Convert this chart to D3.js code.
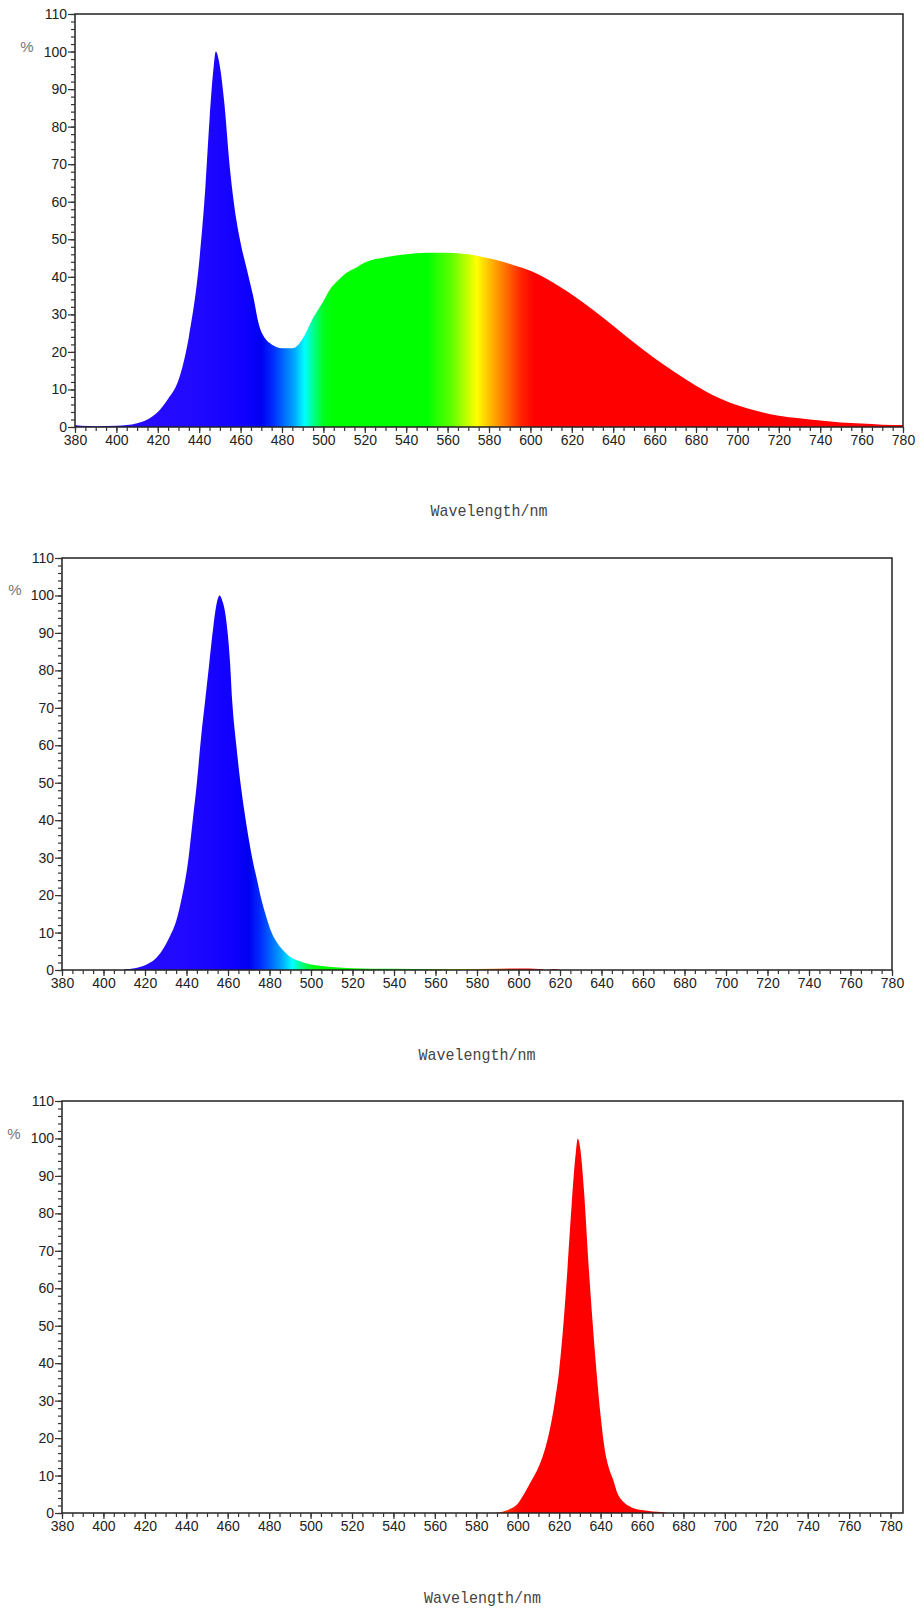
<!DOCTYPE html>
<html>
<head>
<meta charset="utf-8">
<script src="https://cdn.jsdelivr.net/npm/d3@7"></script>
<style>
  body { margin: 0; background: #fff; }
  svg { display: block; }
  .tick text { font-family: "Liberation Sans", Arial, sans-serif; font-size: 14px; fill: #222; }
  .tick line { stroke: #333; }
</style>
</head>
<body>
<svg width="920" height="1609"></svg>
<script>
// relative intensity (%), [wavelength nm, value]
const whiteLed = [
  [380, 0.5], [383, 0.3], [390, 0.2], [400, 0.3], [405, 0.5], [410, 1], [415, 2], [420, 4],
  [425, 7.5], [430, 12.5], [435, 24], [440, 44], [443, 64], [445, 82], [447, 96], [448, 100],
  [450, 96], [452, 87], [455, 68], [458, 55], [460, 49], [463, 42], [466, 35], [469, 27],
  [472, 23.5], [475, 22], [480, 21], [485, 21], [488, 22], [491, 24.5], [495, 29], [500, 33.5],
  [503, 36.5], [507, 39], [511, 41], [516, 42.5], [520, 43.8], [530, 45.2], [540, 46], [550, 46.4],
  [560, 46.4], [570, 46], [577, 45.3], [585, 44.3], [592, 43.1], [600, 41.6], [608, 39.4], [615, 37.1],
  [620, 35.3], [630, 31.3], [640, 27], [650, 22.5], [660, 18.3], [670, 14.5], [680, 11], [690, 8],
  [700, 5.8], [710, 4.2], [720, 3], [730, 2.3], [740, 1.7], [750, 1.2], [760, 0.9], [770, 0.6],
  [780, 0.5]
];

const blueLed = [
  [410, 0.2], [415, 0.5], [420, 1.3], [425, 3], [428, 5], [432, 9], [435, 13], [438, 20],
  [441, 30], [443, 40], [445, 50], [447, 62], [449, 72], [451, 82], [453, 92], [455, 99],
  [456, 100], [457, 99], [459, 94], [461, 82], [462, 72], [464, 60], [466, 50], [468, 42],
  [470, 35], [472, 29], [474, 24], [476, 19], [478, 15], [481, 10], [484, 7], [487, 5],
  [490, 3.5], [495, 2.3], [500, 1.5], [505, 1.1], [510, 0.8], [520, 0.5], [540, 0.35],
  [560, 0.3], [580, 0.3], [600, 0.4], [610, 0.3], [614, 0], [617, 0.3], [620, 0]
];

const redLed = [
  [588, 0], [592, 0.3], [596, 1], [600, 2.5], [603, 5], [606, 8], [609, 11], [612, 15],
  [615, 21], [618, 30], [620, 38], [622, 50], [624, 65], [626, 82], [628, 96], [629, 100],
  [630, 98], [632, 86], [634, 68], [636, 52], [638, 38], [640, 26], [642, 17], [644, 12],
  [646, 9], [648, 5.5], [651, 3], [655, 1.5], [660, 0.8], [665, 0.4], [670, 0.2], [672, 0]
];

const xTickLabels = d3.range(380, 781, 20);
const yTickLabels = d3.range(0, 111, 10);

// spectrum colours used for the fill
const spectrumNm = [380, 440, 462, 470, 476, 486, 491, 495, 500, 505, 550, 562, 568, 574, 580, 588, 596, 602, 780];
const spectrumColor = ['#3010ff', '#2008ff', '#1000ff', '#0000f0', '#0030ff', '#00a8ff', '#00ffff', '#00ff90',
  '#00ff20', '#00ff00', '#00ff00', '#60ff00', '#b0ff00', '#ffff00', '#ffc000', '#ff7000', '#ff2000', '#ff0000', '#ff0000'];

const charts = [
  { id: 'white', data: whiteLed, left: 75, right: 903, top: 14, bottom: 427, xMax: 780, pctY: 47, pctX: 27, titleY: 510 },
  { id: 'blue', data: blueLed, left: 62, right: 892, top: 558, bottom: 970, xMax: 780, pctY: 590, pctX: 15, titleY: 1054 },
  { id: 'red', data: redLed, left: 62, right: 903, top: 1101, bottom: 1513, xMax: 786, pctY: 1134, pctX: 14, titleY: 1597 }
];

const svg = d3.select('svg');
const defs = svg.append('defs');

charts.forEach(c => {
  const x = d3.scaleLinear().domain([380, c.xMax]).range([c.left, c.right]);
  const y = d3.scaleLinear().domain([0, 110]).range([c.bottom, c.top]);

  const grad = defs.append('linearGradient')
    .attr('id', `grad-${c.id}`)
    .attr('gradientUnits', 'userSpaceOnUse')
    .attr('x1', x(380)).attr('x2', x(780))
    .attr('y1', 0).attr('y2', 0);
  grad.selectAll('stop')
    .data(spectrumNm)
    .enter()
    .append('stop')
    .attr('offset', d => (d - 380) / 400)
    .attr('stop-color', (d, i) => spectrumColor[i]);

  const g = svg.append('g');

  const area = d3.area()
    .x(d => x(d[0]))
    .y0(y(0))
    .y1(d => y(d[1]))
    .curve(d3.curveMonotoneX);

  g.append('path')
    .datum(c.data)
    .attr('d', area)
    .attr('fill', `url(#grad-${c.id})`);

  // frame
  g.append('rect')
    .attr('x', c.left).attr('y', c.top)
    .attr('width', c.right - c.left).attr('height', c.bottom - c.top)
    .attr('fill', 'none')
    .attr('stroke', '#222')
    .attr('stroke-width', 1.5);

  // y axis: minor every 2, major every 10
  g.append('g')
    .attr('transform', `translate(${c.left},0)`)
    .call(d3.axisLeft(y).tickValues(d3.range(0, 111, 2)).tickSize(4).tickFormat(''))
    .call(a => a.select('.domain').remove());
  g.append('g')
    .attr('transform', `translate(${c.left},0)`)
    .call(d3.axisLeft(y).tickValues(yTickLabels).tickSize(7).tickPadding(1))
    .call(a => a.select('.domain').remove());

  // x axis: minor every 5, major every 20
  g.append('g')
    .attr('transform', `translate(0,${c.bottom})`)
    .call(d3.axisBottom(x).tickValues(d3.range(380, 781, 5)).tickSize(4).tickFormat(''))
    .call(a => a.select('.domain').remove());
  g.append('g')
    .attr('transform', `translate(0,${c.bottom})`)
    .call(d3.axisBottom(x).tickValues(xTickLabels).tickSize(6).tickPadding(2))
    .call(a => a.select('.domain').remove());

  g.selectAll('.tick line').attr('stroke-width', 1.2);

  g.append('text')
    .attr('x', c.pctX)
    .attr('y', c.pctY)
    .attr('dy', '0.35em')
    .attr('text-anchor', 'middle')
    .style('font-family', '"Liberation Sans", Arial, sans-serif')
    .style('font-size', '15px')
    .attr('fill', '#777')
    .text('%');

  g.append('text')
    .attr('x', (c.left + c.right) / 2)
    .attr('y', c.titleY)
    .attr('dy', '0.35em')
    .attr('text-anchor', 'middle')
    .attr('textLength', 117)
    .attr('lengthAdjust', 'spacingAndGlyphs')
    .style('font-family', '"Liberation Mono", monospace')
    .style('font-size', '17px')
    .attr('fill', '#444')
    .text('Wavelength/nm');
});
</script>
</body>
</html>
